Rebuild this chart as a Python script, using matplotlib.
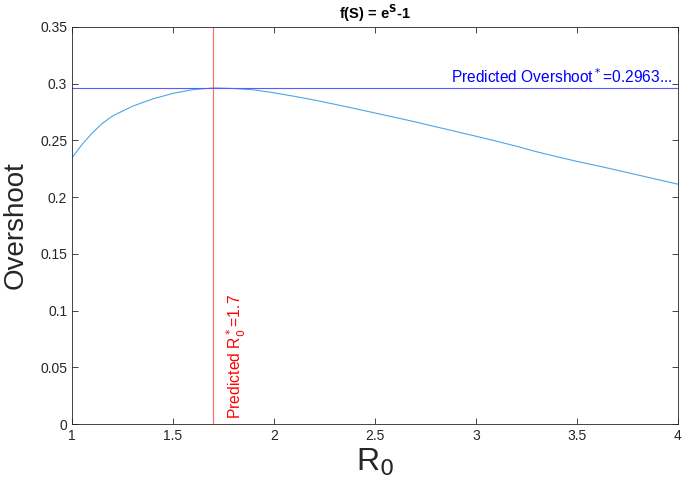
import matplotlib
matplotlib.use("Agg")
import matplotlib.pyplot as plt

plt.rcParams['font.family'] = ['Liberation Sans', 'DejaVu Sans']

r0 = [1.0, 1.05, 1.1, 1.15, 1.2, 1.3, 1.4, 1.5, 1.6, 1.7, 1.8, 1.9, 2.0, 2.1, 2.2,
      2.3, 2.4, 2.5, 2.6, 2.7, 2.8, 2.9, 3.0, 3.1, 3.2, 3.3, 3.4, 3.5, 3.6, 3.7,
      3.8, 3.9, 4.0]
overshoot = [0.2346, 0.2465, 0.2565, 0.2650, 0.2715, 0.2802, 0.2866, 0.2915, 0.2948,
             0.2963, 0.2958, 0.2946, 0.2920, 0.2889, 0.2856, 0.2819, 0.2781, 0.2742,
             0.2703, 0.2663, 0.2621, 0.2579, 0.2537, 0.2494, 0.2449, 0.2400, 0.2357,
             0.2315, 0.2277, 0.2237, 0.2196, 0.2155, 0.2114]
r0_star = 1.7
overshoot_star = 0.2963
xticks = [1, 1.5, 2, 2.5, 3, 3.5, 4]
yticks = [0, 0.05, 0.1, 0.15, 0.2, 0.25, 0.3, 0.35]

fig = plt.figure(figsize=(6.85, 4.98), dpi=100)
ax = fig.add_axes([72/685, 1 - 424/498, (678-72)/685, (424-27)/498])

ax.plot(r0, overshoot, color='#4DA6E8', lw=0.8)
ax.axvline(r0_star, color='#FF6666', lw=0.8)
ax.axhline(overshoot_star, color='#5A5AFF', lw=0.8)

ax.text(r0_star + 0.055, 0.004, r'Predicted R$_0^*$=1.7', color='red', rotation=90,
        fontsize=11.3, ha='left', va='bottom')
ax.text(3.97, overshoot_star + 0.002, r'Predicted Overshoot$^*$=0.2963...', color='blue',
        fontsize=11.2, ha='right', va='bottom')

ax.set_xlim(1, 4)
ax.set_ylim(0, 0.35)
ax.set_xticks(xticks)
ax.set_xticklabels([f'{t:g}' for t in xticks])
ax.set_yticks(yticks)
ax.set_yticklabels([f'{t:g}' for t in yticks])
ax.tick_params(direction='in', length=4, width=0.6, colors='#262626', labelsize=10,
               top=True, right=True)
for s in ax.spines.values():
    s.set_color('#262626')
    s.set_linewidth(0.6)

ax.set_xlabel(r'R$_0$', fontsize=23, color='#262626', labelpad=3)
ax.set_ylabel('Overshoot', fontsize=20, color='#262626', labelpad=8)
ax.set_title(r'f(S) = e$^\mathbf{S}$-1', fontsize=10.5, fontweight='bold', pad=6)

fig.savefig('out.png', dpi=100)
